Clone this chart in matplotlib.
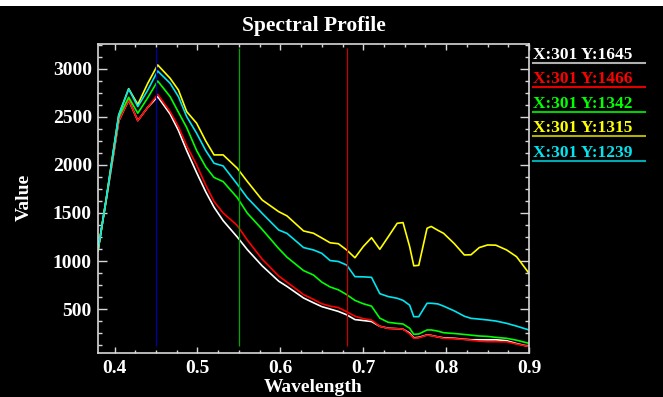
import matplotlib
matplotlib.use('Agg')
import matplotlib.pyplot as plt
from matplotlib.ticker import MultipleLocator
from matplotlib.patches import Rectangle

# wavelength samples (micrometres)
wavelength = [0.380, 0.390, 0.400, 0.405, 0.417, 0.428, 0.440, 0.452, 0.467, 0.477,
              0.487, 0.499, 0.510, 0.520, 0.531, 0.548, 0.560, 0.578, 0.598, 0.608,
              0.628, 0.640, 0.650, 0.660, 0.670, 0.680, 0.690, 0.700, 0.710, 0.720,
              0.730, 0.741, 0.748, 0.756, 0.761, 0.767, 0.777, 0.782, 0.790, 0.797,
              0.810, 0.822, 0.830, 0.840, 0.850, 0.860, 0.873, 0.885, 0.900]

y1645 = [1110, 1640, 2180, 2460, 2677, 2462, 2600, 2712, 2530, 2360,
         2150, 1920, 1720, 1560, 1420, 1250, 1120, 950, 790, 735,
         615, 565, 525, 500, 475, 440, 390, 380, 370, 320,
         300, 295, 290, 250, 200, 205, 230, 225, 210, 200,
         195, 185, 180, 180, 180, 180, 170, 140, 110]

y1466 = [1110, 1640, 2180, 2460, 2677, 2462, 2600, 2736, 2556, 2400,
         2200, 2000, 1790, 1620, 1500, 1370, 1220, 1020, 844, 780,
         650, 600, 555, 530, 515, 472, 425, 400, 385, 320,
         298, 295, 290, 240, 195, 200, 228, 222, 210, 195,
         190, 183, 175, 165, 160, 160, 158, 135, 110]

y1342 = [1110, 1650, 2225, 2500, 2705, 2539, 2700, 2875, 2712, 2550,
         2390, 2150, 1980, 1870, 1827, 1660, 1500, 1330, 1130, 1040,
         900, 854, 780, 730, 700, 650, 590, 555, 530, 405,
         362, 350, 344, 300, 237, 240, 282, 282, 270, 253,
         245, 235, 228, 219, 215, 205, 195, 175, 143]

y1315 = [1110, 1650, 2230, 2520, 2795, 2630, 2850, 3042, 2903, 2781,
         2556, 2435, 2250, 2105, 2105, 1966, 1830, 1636, 1514, 1470,
         1313, 1289, 1240, 1190, 1180, 1115, 1034, 1150, 1243, 1122,
         1250, 1393, 1400, 1150, 950, 955, 1341, 1360, 1320, 1288,
         1180, 1063, 1065, 1140, 1167, 1165, 1115, 1045, 872]

y1239 = [1110, 1650, 2230, 2520, 2790, 2608, 2780, 2979, 2851, 2712,
         2504, 2330, 2150, 2018, 1990, 1800, 1660, 1497, 1323, 1288,
         1140, 1115, 1080, 1005, 995, 958, 837, 835, 830, 660,
         630, 612, 590, 540, 420, 420, 560, 560, 553, 530,
         480, 425, 403, 395, 386, 375, 351, 322, 282]

series = [y1645, y1466, y1342, y1315, y1239]
names = ["X:301 Y:1645", "X:301 Y:1466", "X:301 Y:1342", "X:301 Y:1315", "X:301 Y:1239"]
colors = ["#ffffff", "#ff0000", "#00ff00", "#ffff00", "#00e5f0"]
under_colors = ["#b0b0b0", "#e00000", "#00d000", "#b0b000", "#00a8b0"]

# band markers
band_wl = [0.45, 0.55, 0.68]
band_colors = ["#0000a8", "#00a800", "#c80000"]

font = 'Liberation Serif'

fig = plt.figure(figsize=(6.63, 3.97), dpi=100, facecolor='black')
fig.patches.append(Rectangle((0, 1 - 6/397), 1, 6/397, transform=fig.transFigure,
                             facecolor='white', edgecolor='none'))
ax = fig.add_axes([98/663, 1 - 353/397, 431/663, 309/397])
ax.set_facecolor('black')

for ys, c in zip(series, colors):
    ax.plot(wavelength, ys, color=c, linewidth=1.2)

for w, c in zip(band_wl, band_colors):
    ax.vlines(w, 115, 3218, color=c, linewidth=0.9)

ax.set_xlim(0.38, 0.9)
ax.set_ylim(42, 3260)

ax.xaxis.set_major_locator(MultipleLocator(0.1))
ax.xaxis.set_minor_locator(MultipleLocator(0.025))
ax.yaxis.set_major_locator(MultipleLocator(500))
ax.yaxis.set_minor_locator(MultipleLocator(125))

for s in ax.spines.values():
    s.set_color('#d8d8d8')
    s.set_linewidth(1.2)

ax.tick_params(axis='both', which='both', direction='in', colors='#d8d8d8',
               top=True, right=True, width=1.0)
ax.tick_params(axis='x', which='major', length=4.3, pad=5)
ax.tick_params(axis='x', which='minor', length=2.2)
ax.tick_params(axis='y', which='major', length=6.2, pad=4.5)
ax.tick_params(axis='y', which='minor', length=3.1)

ax.set_xticks([0.4, 0.5, 0.6, 0.7, 0.8, 0.9])
ax.set_xticklabels(["0.4", "0.5", "0.6", "0.7", "0.8", "0.9"])
ax.set_yticks([500, 1000, 1500, 2000, 2500, 3000])
for lab in ax.get_xticklabels() + ax.get_yticklabels():
    lab.set_fontfamily(font)
    lab.set_fontweight('bold')
    lab.set_fontsize(14)
    lab.set_color('white')

fig.text(313.5/663, 1 - 26/397, "Spectral Profile", ha='center', va='center',
         color='white', fontsize=15.5, fontweight='bold', family=font)
fig.text(313.5/663, 1 - 387/397, "Wavelength", ha='center', va='center',
         color='white', fontsize=14, fontweight='bold', family=font)
fig.text(24/663, 1 - 197/397, "Value", ha='center', va='center', rotation=90,
         color='white', fontsize=14, fontweight='bold', family=font)

# legend entries: text with underline in the series colour
for i, (n, c, uc) in enumerate(zip(names, colors, under_colors)):
    yc = 55 + i * 24.4
    fig.text(533/663, 1 - yc/397, n, ha='left', va='center', color=c,
             fontsize=12.5, fontweight='bold', family=font)
    fig.add_artist(plt.Line2D([533/663, 645/663], [1 - (yc + 8)/397] * 2,
                              transform=fig.transFigure, color=uc, linewidth=1.5))

plt.savefig("out.png", dpi=100, facecolor='black')
